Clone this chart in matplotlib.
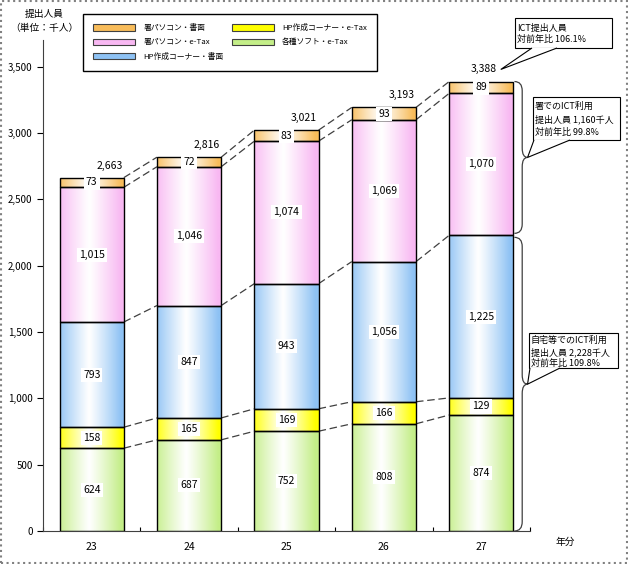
import numpy as np
import matplotlib
matplotlib.use('Agg')
import matplotlib.pyplot as plt
from matplotlib.colors import to_rgb
from matplotlib.path import Path
from matplotlib.patches import PathPatch, Patch, Rectangle, Polygon

plt.rcParams['font.family'] = ['Noto Sans CJK JP', 'DejaVu Sans']

## data (単位: 千人)
years = ['23', '24', '25', '26', '27']
soft_etax = [624, 687, 752, 808, 874]        # 各種ソフト・e-Tax
hp_etax = [158, 165, 169, 166, 129]          # HP作成コーナー・e-Tax
hp_paper = [793, 847, 943, 1056, 1225]       # HP作成コーナー・書面
pc_etax = [1015, 1046, 1074, 1069, 1070]     # 署パソコン・e-Tax
pc_paper = [73, 72, 83, 93, 89]              # 署パソコン・書面
totals = [2663, 2816, 3021, 3193, 3388]

series = [soft_etax, hp_etax, hp_paper, pc_etax, pc_paper]
names = ['各種ソフト・e-Tax', 'HP作成コーナー・e-Tax', 'HP作成コーナー・書面',
         '署パソコン・e-Tax', '署パソコン・書面']
colors = ['#C4EE88', '#FFFF00', '#8EC2F4', '#F8B8F2', '#F8BC5A']

W, H = 628, 564
def fx(px):
    return px / W
def fy(py):
    return 1 - py / H

fig = plt.figure(figsize=(6.28, 5.64), dpi=100)
ax = fig.add_axes([fx(43), fy(531), fx(530) - fx(43), fy(40) - fy(531)])

x = np.arange(len(years))
w = 0.66
bottom = np.zeros(len(years))
cum = []

# gradient: colour at the edges, white near the middle
t = np.linspace(0, 1, 64)
wgt = np.clip(np.abs(t - 0.45) / 0.5, 0, 1) ** 1.1

for vals, col in zip(series, colors):
    bars = ax.bar(x, vals, w, bottom=bottom, color=col, edgecolor='black',
                  linewidth=1, zorder=2)
    rgb = np.array(to_rgb(col))
    img = np.ones((1, len(t), 3)) * (1 - wgt[None, :, None]) + rgb * wgt[None, :, None]
    for b in bars:
        b.set_facecolor('none')
        im = ax.imshow(img, extent=(b.get_x(), b.get_x() + b.get_width(),
                                     b.get_y(), b.get_y() + b.get_height()),
                       aspect='auto', interpolation='bilinear', zorder=1.5)
        im.set_clip_path(b)
    for xi, v, b0 in zip(x, vals, bottom):
        ax.text(xi, b0 + v / 2, f'{v:,}', ha='center', va='center', fontsize=7.5,
                zorder=4, bbox=dict(fc='white', ec='none', pad=1.5))
    bottom = bottom + np.array(vals)
    cum.append(bottom.copy())

# dashed connectors between bars
for c in cum:
    for i in range(len(years) - 1):
        ax.plot([x[i] + w / 2, x[i + 1] - w / 2], [c[i], c[i + 1]],
                ls=(0, (6, 3)), color='#404040', lw=0.9, zorder=1)

# totals
for i, tot in enumerate(totals):
    dx = 0.18 if i < len(totals) - 1 else 0.02
    ax.text(x[i] + dx, tot + 90, f'{tot:,}', ha='center', va='center', fontsize=7.5)

ax.set_xlim(-0.5, 4.5)
ax.set_ylim(0, 3700)
ax.set_yticks(np.arange(0, 3501, 500))
ax.set_yticklabels([f'{v:,}' for v in range(0, 3501, 500)], fontsize=7)
ax.set_xticks(x)
ax.set_xticklabels(years, fontsize=7.5)
ax.tick_params(axis='x', length=0, pad=8)
ax.tick_params(axis='y', length=4, direction='out', width=0.8)
ax.set_xticks(np.arange(-0.5, 4.6, 1), minor=True)
ax.tick_params(axis='x', which='minor', length=3, direction='in', width=0.8)
for s in ['top', 'right']:
    ax.spines[s].set_visible(False)
ax.spines['left'].set_color('#404040')
ax.spines['bottom'].set_color('#404040')

# braces at the right of the last bar
def brace(y0, y1, x0, d1, d2, r):
    ym = (y0 + y1) / 2
    verts = [(x0, y1), (x0 + d1, y1), (x0 + d1, y1 - r),
             (x0 + d1, ym + r),
             (x0 + d1, ym), (x0 + d2, ym),
             (x0 + d1, ym), (x0 + d1, ym - r),
             (x0 + d1, y0 + r),
             (x0 + d1, y0), (x0, y0)]
    codes = [Path.MOVETO, Path.CURVE3, Path.CURVE3, Path.LINETO,
             Path.CURVE3, Path.CURVE3, Path.CURVE3, Path.CURVE3,
             Path.LINETO, Path.CURVE3, Path.CURVE3]
    ax.add_patch(PathPatch(Path(verts, codes), fc='none', ec='#404040', lw=0.9,
                           clip_on=False))
    return ym

xb = x[-1] + w / 2 + 0.01
top_pc = cum[-1][-1]
top_home = cum[2][-1]
ym1 = brace(top_home + 15, top_pc, xb, 0.08, 0.135, 70)
ym2 = brace(0, top_home - 15, xb, 0.08, 0.135, 70)

# speech-bubble callouts (box in figure pixels, pointer to a data point)
def to_fig(pt):
    return fig.transFigure.inverted().transform(ax.transData.transform(pt))

def callout(text, l, tp, r, b, base0, base1, tip, ls, pad_top):
    fig.patches.append(Rectangle((fx(l), fy(b)), fx(r) - fx(l), fy(tp) - fy(b),
                                 transform=fig.transFigure, fc='white', ec='black',
                                 lw=0.8, zorder=5))
    tx, ty = to_fig(tip)
    fig.patches.append(Polygon([(fx(base0), fy(b)), (tx, ty), (fx(base1), fy(b))],
                               closed=False, transform=fig.transFigure,
                               fc='white', ec='black', lw=0.8, zorder=6))
    fig.text(fx(l + 2), fy(tp + pad_top), text, ha='left', va='top', fontsize=6.5,
             linespacing=ls, zorder=7)

callout('ICT提出人員\n対前年比 106.1%', 515, 18, 612, 48, 532, 557,
        (x[-1] + 0.2, totals[-1] + 90), 1.3, 6)
callout('署でのICT利用\n提出人員 1,160千人\n対前年比 99.8%', 533, 97, 620, 140,
        534, 570, (xb + 0.135, ym1), 1.45, 5)
callout('自宅等でのICT利用\n提出人員 2,228千人\n対前年比 109.8%', 529, 333, 618, 368,
        530, 560, (xb + 0.135, ym2), 1.28, 3)

# legend
order = [4, 3, 2, 1, 0]
handles = [Patch(facecolor=colors[i], edgecolor='#404040', lw=0.8) for i in order]
fig.legend(handles, [names[i] for i in order], ncol=2, loc='upper left',
           bbox_to_anchor=(fx(83), fy(14)), fontsize=5.6, frameon=True,
           fancybox=False, edgecolor='black', framealpha=1,
           handlelength=5.4, handleheight=0.9, handletextpad=1.1,
           borderpad=1.3, labelspacing=0.8, columnspacing=1.0,
           borderaxespad=0)

fig.text(fx(44), fy(14), '提出人員', ha='center', va='center', fontsize=7)
fig.text(fx(44), fy(28), '（単位：千人）', ha='center', va='center', fontsize=7)
fig.text(fx(565), fy(542), '年分', ha='center', va='center', fontsize=7)

fig.patches.append(Rectangle((0.002, 0.002), 0.996, 0.996, transform=fig.transFigure,
                             fill=False, ec='#808080', lw=1.5, ls=':'))

fig.savefig('out.png', dpi=100)
